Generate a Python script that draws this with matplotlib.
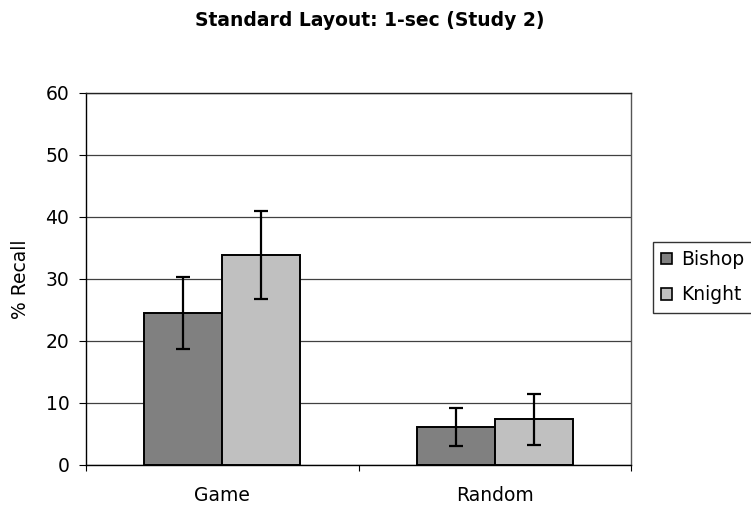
import matplotlib
matplotlib.use("Agg")
import matplotlib.pyplot as plt
import numpy as np
from matplotlib.patches import Patch

plt.rcParams['font.family'] = ['DejaVu Sans']

categories = ["Game", "Random"]
series = ["Bishop", "Knight"]
bishop = [24.5, 6.1]
knight = [33.9, 7.4]
bishop_err = [5.8, 3.1]
knight_err = [7.1, 4.1]
colors = ["#808080", "#C0C0C0"]

FS = 13.5

fig = plt.figure(figsize=(7.51, 5.12), dpi=100)
ax = fig.add_axes([86/751, 1-465/512, (631-86)/751, (465-93)/512])

x = np.arange(len(categories))
w = 0.286
ekw = dict(ecolor='black', elinewidth=1.6, capsize=5, capthick=1.6)
ax.bar(x - w/2, bishop, w, color=colors[0], edgecolor='black', linewidth=1.4,
       yerr=bishop_err, error_kw=ekw, zorder=3, label=series[0])
ax.bar(x + w/2, knight, w, color=colors[1], edgecolor='black', linewidth=1.4,
       yerr=knight_err, error_kw=ekw, zorder=3, label=series[1])

ax.set_xlim(-0.5, 1.5)
ax.set_ylim(0, 60)
ax.set_yticks(np.arange(0, 61, 10))
ax.yaxis.grid(True, color='#404040', linewidth=0.9, zorder=0)
ax.set_axisbelow(True)
ax.set_xticks(x)
ax.set_xticklabels(categories, fontsize=FS)
ax.set_xticks([-0.5, 0.5, 1.5], minor=True)
ax.tick_params(axis='x', which='major', length=0, pad=15)
ax.tick_params(axis='x', which='minor', length=4, direction='out', width=0.8)
ax.tick_params(axis='y', length=5, direction='out', width=0.8, labelsize=FS, pad=7)
for s in ['top', 'right']:
    ax.spines[s].set_color('#555555')
    ax.spines[s].set_linewidth(1.0)
ax.spines['top'].set_color('#222222')
for s in ['left', 'bottom']:
    ax.spines[s].set_color('black')
    ax.spines[s].set_linewidth(1.0)

ax.set_ylabel("% Recall", fontsize=FS)
ax.yaxis.label.set_va('center')
ax.yaxis.set_label_coords((20-86)/(631-86), 0.5)

fig.text(370/751, 1-21/512, "Standard Layout: 1-sec (Study 2)", ha='center', va='center',
         fontsize=FS, fontweight='bold')

handles = [Patch(facecolor=colors[0], edgecolor='black', linewidth=1.2),
           Patch(facecolor=colors[1], edgecolor='black', linewidth=1.2)]
leg = fig.legend(handles, series, loc='upper left', bbox_to_anchor=(652.7/751, 1-241.7/512),
                 fontsize=FS, frameon=True, fancybox=False, edgecolor='black',
                 handlelength=0.6, handleheight=0.6, handletextpad=0.44,
                 labelspacing=0.86, borderpad=0.45, borderaxespad=0)
leg.get_frame().set_linewidth(1.0)

fig.savefig("out.png", dpi=100)
